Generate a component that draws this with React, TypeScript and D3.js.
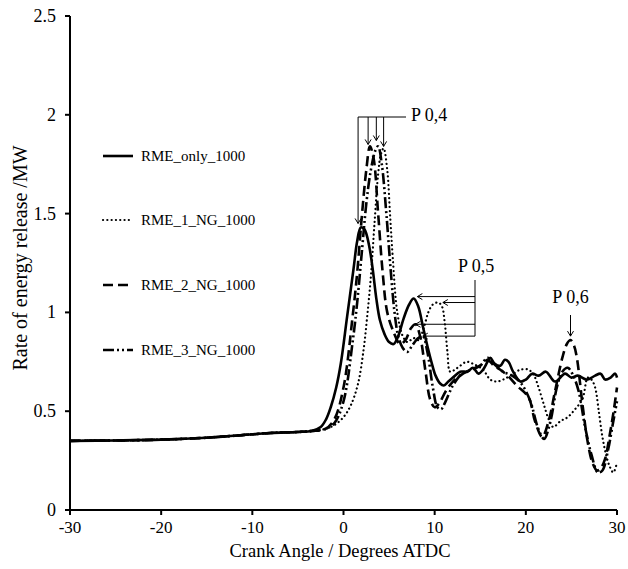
import React from "react";
import * as d3 from "d3";

type Pt = [number, number];

const xTicks = [-30, -20, -10, 0, 10, 20, 30];
const yTicks = [0, 0.5, 1, 1.5, 2, 2.5];
const yTickLabels = ["0", "0.5", "1", "1.5", "2", "2.5"];

const seriesNames = ["RME_only_1000", "RME_1_NG_1000", "RME_2_NG_1000", "RME_3_NG_1000"];

const preIgnition: Pt[] = [
  [-30, 0.35], [-25, 0.352], [-20, 0.356], [-15, 0.366], [-10, 0.383], [-8, 0.39], [-5, 0.395], [-3.5, 0.4],
];

const rmeOnly: Pt[] = [
  ...preIgnition,
  [-2.5, 0.42], [-1.9, 0.46], [-1.4, 0.52], [-0.8, 0.62], [-0.3, 0.74], [0.4, 0.98], [1.1, 1.22], [1.5, 1.36],
  [1.9, 1.43], [2.3, 1.42], [2.8, 1.34], [3.2, 1.22], [3.6, 1.07], [4.0, 0.96], [4.5, 0.89], [5.0, 0.85],
  [5.5, 0.84], [6.0, 0.88], [6.6, 0.97], [7.2, 1.04], [7.7, 1.07], [8.2, 1.03], [8.7, 0.93], [9.2, 0.83],
  [9.7, 0.74], [10.1, 0.68], [10.6, 0.64], [11.0, 0.63], [11.5, 0.65], [12.0, 0.67], [12.8, 0.7], [13.6, 0.7],
  [14.2, 0.72], [14.8, 0.69], [15.3, 0.71], [15.8, 0.75], [16.1, 0.77], [16.6, 0.74], [17.2, 0.73], [17.7, 0.76],
  [18.1, 0.75], [18.6, 0.7], [19.4, 0.65], [20.0, 0.66], [20.7, 0.69], [21.4, 0.68], [22.2, 0.7], [23.2, 0.65],
  [24.3, 0.69], [25.0, 0.67], [25.7, 0.68], [26.7, 0.66], [27.6, 0.68], [28.2, 0.69], [28.7, 0.66], [29.3, 0.67],
  [29.8, 0.69], [30, 0.67],
];

const rme1NG: Pt[] = [
  ...preIgnition,
  [-2, 0.41], [-1, 0.43], [0, 0.47], [0.8, 0.53], [1.6, 0.64], [2.2, 0.81], [2.6, 0.98], [3.0, 1.18],
  [3.4, 1.45], [3.8, 1.7], [4.1, 1.8], [4.4, 1.83], [4.8, 1.72], [5.1, 1.5], [5.4, 1.28], [5.9, 1.0],
  [6.5, 0.88], [7.0, 0.85], [7.7, 0.87], [8.2, 0.86], [8.8, 0.92], [9.3, 1.0], [9.8, 1.04], [10.4, 1.05],
  [10.8, 1.03], [11.1, 0.95], [11.4, 0.8], [11.7, 0.7], [12.2, 0.71], [12.8, 0.73], [13.5, 0.75], [14.2, 0.74],
  [15.3, 0.71], [16.1, 0.66], [16.8, 0.65], [17.5, 0.66], [18.3, 0.68], [19.4, 0.71], [20.3, 0.71], [20.9, 0.68],
  [21.4, 0.62], [22.0, 0.53], [22.5, 0.46], [23.0, 0.42], [23.8, 0.45], [24.6, 0.47], [25.4, 0.51], [26.2, 0.56],
  [26.8, 0.67], [27.2, 0.66], [27.6, 0.62], [28.0, 0.5], [28.4, 0.37], [28.8, 0.28], [29.2, 0.22], [29.6, 0.19],
  [30, 0.24],
];

const rme2NG: Pt[] = [
  ...preIgnition,
  [-2, 0.41], [-1, 0.46], [0, 0.62], [1, 0.98], [1.5, 1.2], [2.0, 1.48], [2.5, 1.72], [2.9, 1.84],
  [3.3, 1.78], [3.8, 1.5], [4.3, 1.2], [4.8, 1.0], [5.5, 0.9], [6.2, 0.84], [6.8, 0.86], [7.4, 0.92],
  [7.9, 0.94], [8.4, 0.88], [9.0, 0.7], [9.5, 0.56], [10.0, 0.52], [10.5, 0.54], [11.2, 0.6], [12.0, 0.65],
  [12.8, 0.68], [13.5, 0.7], [14.5, 0.72], [15.3, 0.74], [15.8, 0.76], [16.5, 0.73], [17.2, 0.71], [18.0, 0.68],
  [19.0, 0.63], [20.3, 0.57], [21.0, 0.45], [21.8, 0.37], [22.5, 0.45], [23.2, 0.6], [24.0, 0.77], [24.5, 0.84],
  [24.9, 0.86], [25.3, 0.83], [25.6, 0.77], [26.2, 0.54], [26.8, 0.34], [27.3, 0.24], [27.8, 0.2], [28.2, 0.21],
  [28.7, 0.26], [29.2, 0.38], [29.6, 0.49], [30, 0.62],
];

const rme3NG: Pt[] = [
  ...preIgnition,
  [-2, 0.41], [-1, 0.44], [0, 0.55], [1, 0.85], [1.5, 1.05], [2.0, 1.3], [2.5, 1.55], [3.0, 1.72],
  [3.5, 1.82], [3.8, 1.84], [4.2, 1.75], [4.7, 1.5], [5.2, 1.2], [5.6, 1.0], [6.0, 0.88], [6.5, 0.82],
  [7.0, 0.8], [7.5, 0.83], [8.2, 0.87], [8.7, 0.88], [9.2, 0.8], [9.8, 0.62], [10.3, 0.52], [10.7, 0.51],
  [11.2, 0.55], [12.0, 0.63], [13.0, 0.69], [14.0, 0.71], [15.0, 0.73], [15.8, 0.77], [16.5, 0.74], [17.5, 0.7],
  [18.5, 0.68], [19.5, 0.64], [20.5, 0.55], [21.3, 0.42], [22.0, 0.36], [22.7, 0.45], [23.4, 0.62], [24.0, 0.7],
  [24.6, 0.72], [25.2, 0.68], [25.8, 0.6], [26.5, 0.42], [27.2, 0.28], [27.9, 0.19], [28.4, 0.2], [29.0, 0.3],
  [29.6, 0.45], [30, 0.55],
];

const allSeries = [rmeOnly, rme1NG, rme2NG, rme3NG];

// annotation targets (data coords)
const p04Targets: Pt[] = [[1.6, 1.45], [2.7, 1.85], [3.6, 1.87], [4.4, 1.84]];
const p05Targets: Pt[] = [[8.1, 1.08], [10.9, 1.05], [7.9, 0.94], [8.7, 0.88]];
const p06Target: Pt = [24.9, 0.88];

const W = 628;
const H = 569;
const M = { left: 70, right: 617, top: 16, bottom: 510 };
const FONT = "Liberation Serif, Times New Roman, serif";

const styles = [
  { width: 2.6, dash: "none", cap: "butt" as const },
  { width: 2.2, dash: "0.1,4.2", cap: "round" as const },
  { width: 2.6, dash: "10,5", cap: "butt" as const },
  { width: 2.6, dash: "11,3,2,3,2,3", cap: "butt" as const },
];

export default function App() {
  const x = d3.scaleLinear().domain([-30, 30]).range([M.left, M.right]);
  const y = d3.scaleLinear().domain([0, 2.5]).range([M.bottom, M.top]);
  const line = d3
    .line<Pt>()
    .x((d) => x(d[0]))
    .y((d) => y(d[1]))
    .curve(d3.curveCatmullRom.alpha(0.5));

  const legendY = [156, 220, 285, 350];

  const arrowHead = (tx: number, ty: number, dir: "down" | "left", key: string) => {
    const s = 5;
    const d =
      dir === "down"
        ? `M${tx - s * 0.6},${ty - s} L${tx},${ty} L${tx + s * 0.6},${ty - s}`
        : `M${tx + s},${ty - s * 0.6} L${tx},${ty} L${tx + s},${ty + s * 0.6}`;
    return <path key={key} d={d} fill="none" stroke="#000" strokeWidth={1} />;
  };

  const p04Y = 117;
  const p04Xs = p04Targets.map((t) => x(t[0]));
  const p04Right = 406;
  const p05X = 475;
  const ts = { fontFamily: FONT };

  return (
    <svg
      width={W}
      height={H}
      style={{ position: "absolute", left: 0, top: 0, background: "#fff", fontFamily: FONT }}
    >
      <rect width={W} height={H} fill="#fff" />
      {allSeries.map((s, i) => (
        <path
          key={i}
          d={line(s) || ""}
          fill="none"
          stroke="#000"
          strokeWidth={styles[i].width}
          strokeDasharray={styles[i].dash}
          strokeLinecap={styles[i].cap}
          strokeLinejoin="round"
        />
      ))}

      <line x1={M.left} x2={M.left} y1={M.top} y2={M.bottom} stroke="#000" strokeWidth={2} />
      <line x1={M.left} x2={M.right} y1={M.bottom} y2={M.bottom} stroke="#000" strokeWidth={2} />
      {yTicks.map((t, i) => (
        <g key={"y" + t}>
          <line x1={M.left - 5} x2={M.left} y1={y(t)} y2={y(t)} stroke="#000" strokeWidth={2} />
          <text x={56} y={y(t) + 6} textAnchor="end" fontSize={18} style={ts}>
            {yTickLabels[i]}
          </text>
        </g>
      ))}
      {xTicks.map((t) => (
        <g key={"x" + t}>
          <line x1={x(t)} x2={x(t)} y1={M.bottom} y2={M.bottom + 5} stroke="#000" strokeWidth={2} />
          <text x={x(t)} y={533} textAnchor="middle" fontSize={17} style={ts}>
            {t}
          </text>
        </g>
      ))}
      <text x={340} y={557} textAnchor="middle" fontSize={18.5} style={ts}>
        Crank Angle / Degrees ATDC
      </text>
      <text
        transform={`translate(27,258) rotate(-90)`}
        textAnchor="middle"
        fontSize={20}
        style={ts}
      >
        Rate of energy release /MW
      </text>

      {seriesNames.map((n, i) => (
        <g key={n}>
          <line
            x1={103}
            x2={133}
            y1={legendY[i]}
            y2={legendY[i]}
            stroke="#000"
            strokeWidth={styles[i].width}
            strokeDasharray={styles[i].dash}
            strokeLinecap={styles[i].cap}
          />
          <text x={141} y={legendY[i] + 5} fontSize={15} style={ts}>
            {n}
          </text>
        </g>
      ))}

      <line x1={p04Xs[0]} x2={p04Right} y1={p04Y} y2={p04Y} stroke="#000" strokeWidth={1} />
      {p04Targets.map((t, i) => (
        <g key={"p4" + i}>
          <line x1={x(t[0])} x2={x(t[0])} y1={p04Y} y2={y(t[1])} stroke="#000" strokeWidth={1} />
          {arrowHead(x(t[0]), y(t[1]), "down", "ah4" + i)}
        </g>
      ))}
      <text x={411} y={121} fontSize={18} style={ts}>P 0,4</text>

      <line x1={p05X} x2={p05X} y1={280} y2={y(p05Targets[3][1])} stroke="#000" strokeWidth={1} />
      {p05Targets.map((t, i) => (
        <g key={"p5" + i}>
          <line x1={x(t[0])} x2={p05X} y1={y(t[1])} y2={y(t[1])} stroke="#000" strokeWidth={1} />
          {arrowHead(x(t[0]), y(t[1]), "left", "ah5" + i)}
        </g>
      ))}
      <text x={458} y={272} fontSize={18} style={ts}>P 0,5</text>

      <line x1={x(p06Target[0])} x2={x(p06Target[0])} y1={315} y2={y(p06Target[1])} stroke="#000" strokeWidth={1} />
      {arrowHead(x(p06Target[0]), y(p06Target[1]), "down", "ah6")}
      <text x={x(p06Target[0])} y={303} textAnchor="middle" fontSize={18} style={ts}>P 0,6</text>
    </svg>
  );
}
